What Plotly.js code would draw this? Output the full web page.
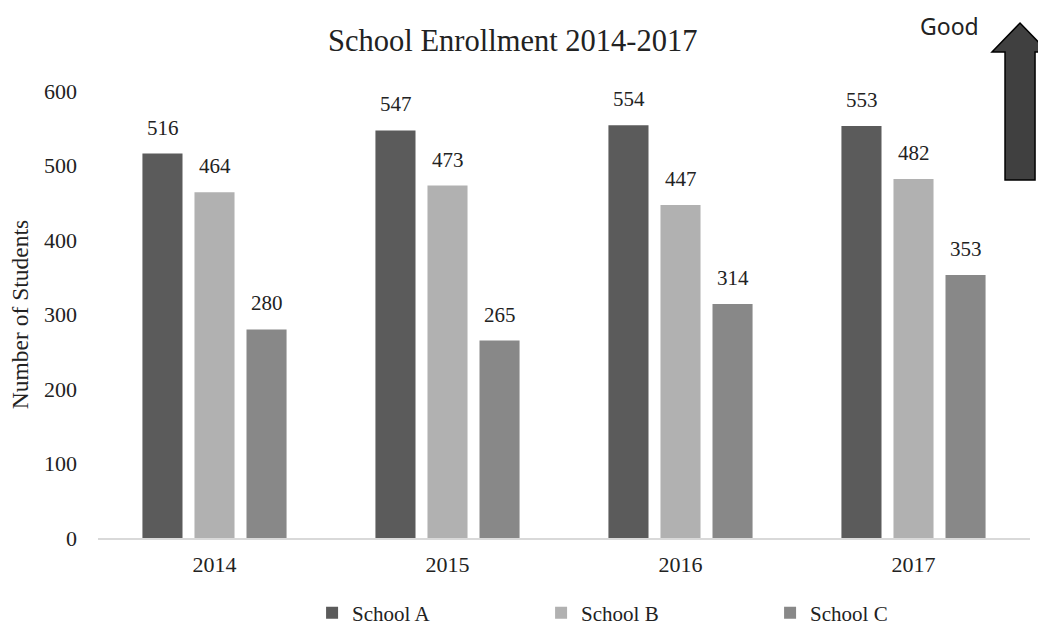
<!DOCTYPE html>
<html>
<head>
<meta charset="utf-8">
<script src="https://cdn.plot.ly/plotly-3.0.1.min.js"></script>
<style>html,body{margin:0;padding:0;background:#fff;}#chart{width:1038px;height:626px;}</style>
</head>
<body>
<div id="chart"></div>
<script>
const years = ['2014', '2015', '2016', '2017'];
const schoolA = [516, 547, 554, 553];
const schoolB = [464, 473, 447, 482];
const schoolC = [280, 265, 314, 353];
const seriesNames = ['School A', 'School B', 'School C'];
const seriesColors = ['#5b5b5b', '#b1b1b1', '#888888'];
const yTicks = [0, 100, 200, 300, 400, 500, 600];

const serif = 'Liberation Serif, Times New Roman, serif';
const values = [schoolA, schoolB, schoolC];
const traces = values.map((v, i) => ({
  type: 'bar',
  name: seriesNames[i],
  x: years,
  y: v,
  marker: {color: seriesColors[i], line: {width: 0}},
  hoverinfo: 'x+y+name'
}));

// value labels above each bar, anchored to the data through the axes
// (category axis: x given as the category index)
const groupShift = [-52, 0, 52];
const labelAnns = [];
values.forEach((v, i) => {
  v.forEach((val, j) => {
    labelAnns.push({
      xref: 'x', yref: 'y', x: j, y: val,
      xshift: groupShift[i], yshift: 12,
      xanchor: 'center', yanchor: 'bottom',
      text: String(val), showarrow: false,
      font: {family: serif, size: 21, color: '#222'}
    });
  });
});

const layout = {
  width: 1038, height: 626,
  margin: {l: 98, r: 8, t: 91, b: 88, autoexpand: false},
  paper_bgcolor: '#fff', plot_bgcolor: '#fff',
  barmode: 'group',
  bargap: 0.33,
  bargroupgap: 0.23,
  showlegend: true,
  title: {text: 'School Enrollment 2014-2017', x: 0.494, xanchor: 'center', y: 0.935, yanchor: 'middle',
          font: {family: serif, size: 30.5, color: '#222'}},
  xaxis: {
    type: 'category',
    categoryorder: 'array', categoryarray: years,
    range: [-0.5, years.length - 0.5],
    showgrid: false, zeroline: false,
    showline: true, linecolor: '#d9d9d9', linewidth: 2,
    ticks: '', ticklabelstandoff: 6,
    tickfont: {family: serif, size: 22, color: '#222'}
  },
  yaxis: {
    range: [0, 600],
    tickvals: yTicks,
    showgrid: false, zeroline: false, showline: false,
    ticks: '', ticklabelstandoff: 20,
    tickfont: {family: serif, size: 22, color: '#222'},
    title: {text: 'Number of Students', standoff: 8, font: {family: serif, size: 23.5, color: '#222'}}
  },
  legend: {
    orientation: 'h',
    x: 0.2297, xanchor: 'left',
    y: -0.168, yanchor: 'middle',
    entrywidth: 184, entrywidthmode: 'pixels',
    font: {family: serif, size: 21, color: '#222'},
    traceorder: 'normal'
  },
  shapes: [{
    type: 'path', xref: 'paper', yref: 'paper',
    path: 'M 0.9732 0.8009 L 0.9732 1.0872 L 0.9592 1.0872 L 0.9893 1.1521 L 1.0193 1.0872 L 1.0054 1.0872 L 1.0054 0.8009 Z',
    fillcolor: '#404040',
    line: {color: '#000', width: 1.5}
  }],
  annotations: labelAnns.concat([{
    xref: 'paper', yref: 'paper',
    x: (949 - 98) / 932, y: (538 - 26) / 447,
    xanchor: 'center', yanchor: 'middle',
    text: 'Good', showarrow: false,
    font: {family: 'Noto Sans, Open Sans, sans-serif', size: 23, color: '#222'}
  }])
};

Plotly.newPlot('chart', traces, layout, {displayModeBar: false, staticPlot: true});
</script>
</body>
</html>
